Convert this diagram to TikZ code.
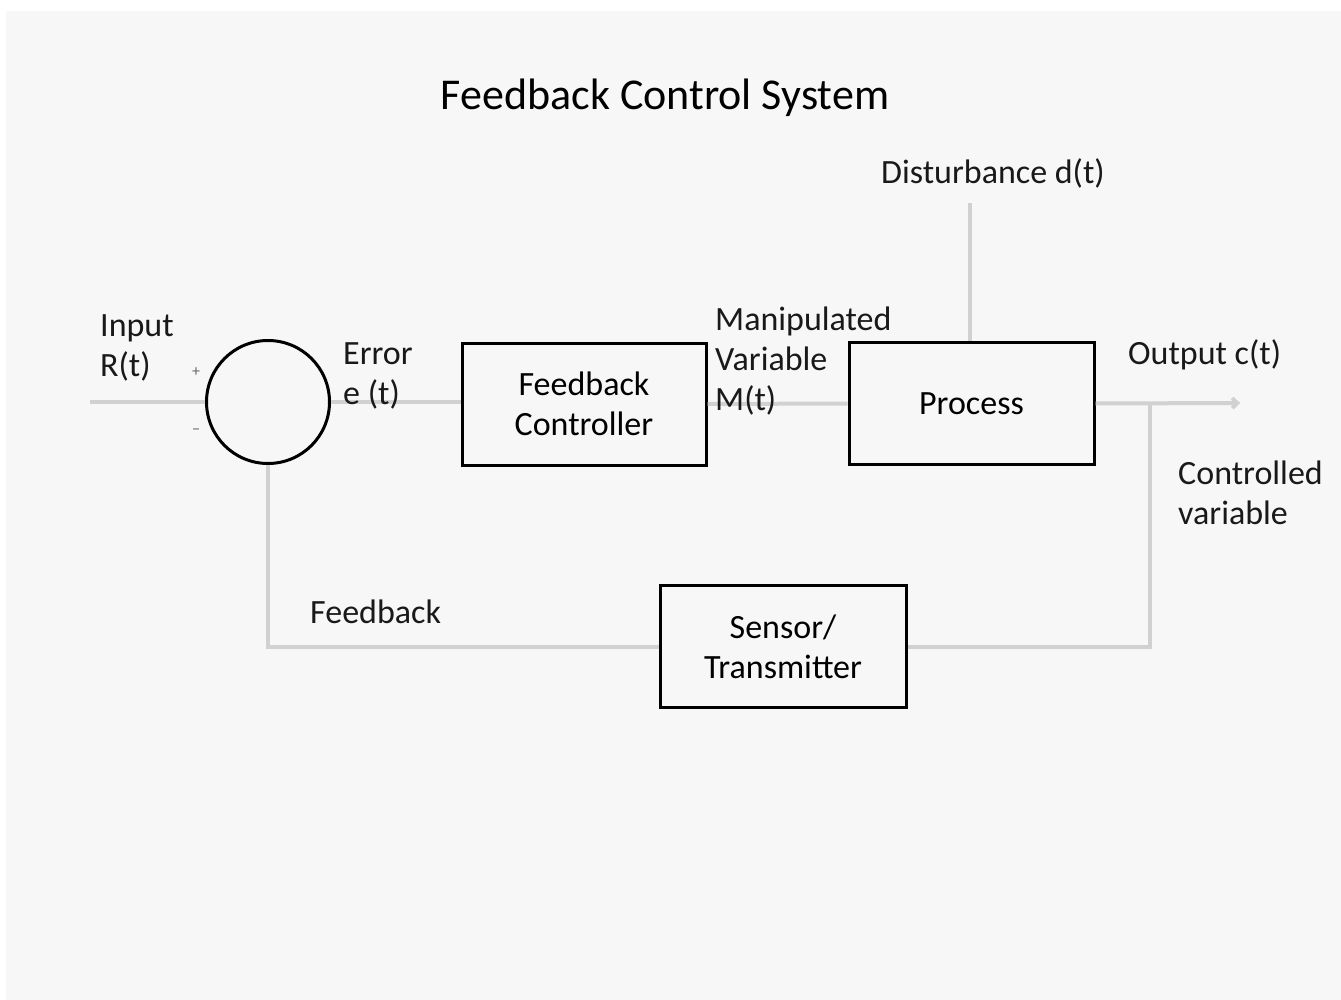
\documentclass[tikz,border=0pt]{standalone}
\usepackage{fontspec}
\setmainfont{Carlito}
\usetikzlibrary{arrows.meta}
\begin{document}
\begin{tikzpicture}[x=1pt,y=-1pt,
  blockbox/.style={draw=black,line width=3pt,minimum width=244pt,minimum height=122pt,align=center,inner sep=0pt,font=\fontsize{34}{40}\selectfont},
  conn/.style={draw=black!18,line width=4pt},
  lbl/.style={inner sep=0pt,align=left,anchor=base west,font=\fontsize{34}{40}\selectfont,text=black!90}
]
\useasboundingbox (0,0) rectangle (1341,1000);
\fill[white] (0,0) rectangle (1341,1000);
\fill[black!3] (6,11) rectangle (1341,1000);

% title
\node[inner sep=0pt,anchor=base,font=\fontsize{44}{50}\selectfont] (title) at (665,110) {Feedback Control System};

% blocks
\node[circle,draw=black,line width=3pt,minimum size=123pt,inner sep=0pt] (sum) at (268,402) {};
\node[blockbox] (ctrl) at (584,404) {Feedback\\Controller};
\node[blockbox,minimum width=245pt] (proc) at (971.5,403.5) {Process};
\node[blockbox,minimum width=246pt] (sens) at (783,646.5) {Sensor/\\Transmitter};

% coordinates
\coordinate (inS) at (90,402);
\coordinate (distTop) at (970,203);
\coordinate (outEnd) at (1240,403);
\coordinate (branch) at (1150,403);

% connectors
\draw[conn] (inS) -- (sum.west);
\draw[conn] (sum.east) -- (sum.east -| ctrl.west);
\draw[conn] (ctrl.east) -- (proc.west);
\draw[conn] (distTop) -- (distTop |- proc.north);
\draw[conn,-{Straight Barb[length=5pt,width=10pt]}] (proc.east) -- (outEnd);
\draw[conn] (branch) |- (sens.east);
\draw[conn] (sens.west) -| (sum.south);

% labels (base anchor = baseline of last line)
\node[lbl] (inlbl) at (100,376) {Input\\R(t)};
\node[lbl] (errlbl) at (343,404) {Error\\e (t)};
\node[lbl] (mvlbl) at (715,410) {Manipulated\\Variable\\M(t)};
\node[lbl,anchor=base] (dlbl) at (993,184) {Disturbance d(t)};
\node[lbl] (outlbl) at (1128,364) {Output c(t)};
\node[lbl] (cvlbl) at (1178,524) {Controlled\\variable};
\node[lbl] (fblbl) at (310,623) {Feedback};
\node[inner sep=0pt,font=\fontsize{16}{16}\selectfont,text=black!60] (plus) at (196,372) {+};
\node[inner sep=0pt,font=\fontsize{16}{16}\selectfont,text=black!60] (minus) at (196,432) {−};
\end{tikzpicture}
\end{document}
